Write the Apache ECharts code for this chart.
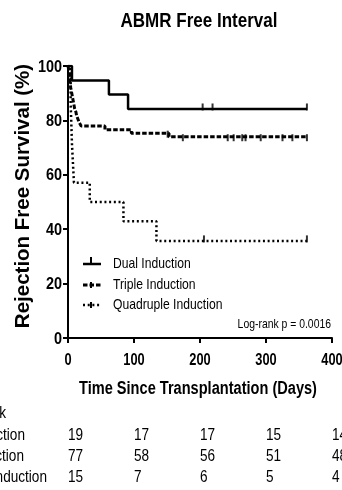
<!DOCTYPE html>
<html>
<head>
<meta charset="utf-8">
<script src="https://cdn.jsdelivr.net/npm/echarts@6/dist/echarts.min.js"></script>
<style>
  html, body { margin: 0; padding: 0; background: #fff; }
  #chart { width: 342px; height: 490px; }
</style>
</head>
<body>
<div id="chart"></div>
<script>
// Kaplan–Meier estimates: [day, survival %] after each event
const dualSteps = [[0, 100], [6, 94.7], [62, 89.5], [91, 84.2], [362, 84.2]];
const tripleSteps = [[0, 100], [1, 98.7], [2, 97.4], [3, 94.8], [4, 92.2], [5, 90.9], [6, 89.6], [8, 87.0],
  [9, 85.7], [10, 84.4], [12, 83.1], [13, 81.8], [15, 80.5], [17, 79.2], [20, 77.9],
  [56, 76.6], [96, 75.3], [153, 74.0], [362, 74.0]];
const quadSteps = [[0, 100], [4, 86.7], [6, 71.4], [9, 57.1], [33, 50.0], [84, 42.9], [134, 35.7], [362, 35.7]];

// Censored observations
const dualCensor = [[204, 84.2], [219, 84.2], [362, 84.2]];
const tripleCensor = [[151, 75.3], [174, 74.0], [242, 74.0], [251, 74.0], [264, 74.0], [269, 74.0],
  [292, 74.0], [325, 74.0], [340, 74.0], [362, 74.0]];
const quadCensor = [[206, 35.7], [362, 35.7]];

const seriesNames = ['Dual Induction', 'Triple Induction', 'Quadruple Induction'];

// Number at risk table
const riskDays = [0, 100, 200, 300, 400];
const riskDual = [19, 17, 17, 15, 14];
const riskTriple = [77, 58, 56, 51, 48];
const riskQuad = [15, 7, 6, 5, 4];

const yTicks = [0, 20, 40, 60, 80, 100];
const xTicks = [0, 100, 200, 300, 400];

const FONT = '"Liberation Sans", Arial, sans-serif';
const NARROW = 0.81; // horizontal squeeze giving a narrow sans face

const dashes = { dual: 'solid', triple: [4.5, 2], quad: [2, 2.7] };
const widths = { dual: 2.5, triple: 3, quad: 2.5 };

const chart = echarts.init(document.getElementById('chart'), null, { renderer: 'canvas' });

function kmLine(name, data, dash, width) {
  return {
    name: name, type: 'line', step: 'end', data: data,
    showSymbol: false, symbol: 'none', animation: false,
    lineStyle: { color: '#000', width: width, type: dash, cap: 'butt' },
    itemStyle: { color: '#000' }
  };
}
function censor(data, offset) {
  return {
    type: 'scatter', data: data, symbol: 'rect', symbolSize: [2, 7], symbolOffset: [0, offset],
    itemStyle: { color: '#000' }, animation: false, silent: true
  };
}

chart.setOption({
  backgroundColor: '#fff',
  animation: false,
  grid: { left: 68, top: 66, right: 10, bottom: 152 },
  xAxis: {
    type: 'value', min: 0, max: 400, interval: 100,
    axisLine: { show: true, lineStyle: { color: '#000', width: 2 } },
    axisTick: { show: true, length: 5, lineStyle: { color: '#000', width: 2 } },
    axisLabel: { show: false },
    splitLine: { show: false }
  },
  yAxis: {
    type: 'value', min: 0, max: 100, interval: 20,
    axisLine: { show: true, lineStyle: { color: '#000', width: 2 } },
    axisTick: { show: true, length: 5, lineStyle: { color: '#000', width: 2 } },
    axisLabel: { show: false },
    splitLine: { show: false }
  },
  series: [
    kmLine(seriesNames[0], dualSteps, dashes.dual, widths.dual),
    kmLine(seriesNames[1], tripleSteps, dashes.triple, widths.triple),
    kmLine(seriesNames[2], quadSteps, dashes.quad, widths.quad),
    censor(dualCensor, -2),
    censor(tripleCensor, 1),
    censor(quadCensor, -2)
  ]
});

// Text helper: squeezed sans text
function txt(x, y, text, size, opts) {
  opts = opts || {};
  return {
    type: 'text', x: x, y: y, scaleX: opts.scaleX || NARROW, rotation: opts.rotation || 0,
    silent: true,
    style: {
      text: text, fontFamily: FONT, fontSize: size, fontWeight: opts.bold ? 'bold' : 'normal',
      fill: '#000', textAlign: opts.align || 'left', textVerticalAlign: 'middle'
    }
  };
}

const g = [];
g.push(txt(199, 21, 'ABMR Free Interval', 21, { bold: true, align: 'center' }));
g.push(txt(198, 389, 'Time Since Transplantation (Days)', 18, { bold: true, align: 'center' }));
g.push(txt(23, 196, 'Rejection Free Survival (%)', 20.5, { bold: true, align: 'center', rotation: Math.PI / 2, scaleX: 1 }));

// Tick labels on the axis scales
yTicks.forEach(function (v) {
  const py = chart.convertToPixel({ yAxisIndex: 0 }, v);
  g.push(txt(62, py + 1, String(v), 17, { bold: true, align: 'right', scaleX: 0.85 }));
});
xTicks.forEach(function (v) {
  const px = chart.convertToPixel({ xAxisIndex: 0 }, v);
  g.push(txt(px, 361, String(v), 16, { bold: true, align: 'center', scaleX: 0.8 }));
});

// Legend
const legendRows = [
  { name: seriesNames[0], key: 'dual', y: 264, tick: -1 },
  { name: seriesNames[1], key: 'triple', y: 285, tick: 1 },
  { name: seriesNames[2], key: 'quad', y: 305, tick: 1 }
];
legendRows.forEach(function (r) {
  g.push({
    type: 'line', silent: true,
    shape: { x1: 83, y1: r.y, x2: 101, y2: r.y },
    style: { stroke: '#000', lineWidth: widths[r.key], lineDash: r.key === 'dual' ? null : dashes[r.key] }
  });
  g.push({
    type: 'rect', silent: true,
    shape: { x: 90, y: r.y - 5 + r.tick * 2, width: 2, height: 6 },
    style: { fill: '#000' }
  });
  g.push(txt(113, r.y, r.name, 15));
});

g.push(txt(331, 324, 'Log-rank p = 0.0016', 13, { align: 'right', scaleX: 0.8 }));

// Number at risk table
g.push(txt(6, 413, 'Number at risk', 17, { align: 'right', scaleX: 0.8 }));
const rows = [
  { label: seriesNames[0], values: riskDual, y: 435, right: 25 },
  { label: seriesNames[1], values: riskTriple, y: 456, right: 24 },
  { label: seriesNames[2], values: riskQuad, y: 477, right: 47 }
];
rows.forEach(function (r) {
  g.push(txt(r.right, r.y, r.label, 17, { align: 'right', scaleX: 0.8 }));
  r.values.forEach(function (v, i) {
    const px = chart.convertToPixel({ xAxisIndex: 0 }, riskDays[i]);
    g.push(txt(px, r.y, String(v), 17, { align: 'left', scaleX: 0.8 }));
  });
});
chart.setOption({ graphic: g });
</script>
</body>
</html>
